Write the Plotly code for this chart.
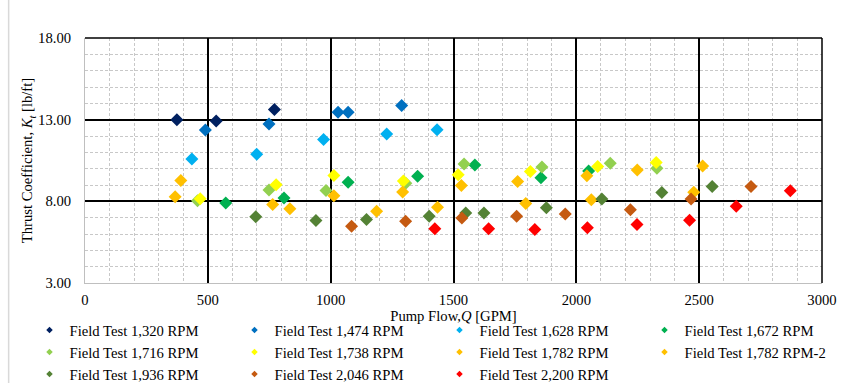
import plotly.graph_objects as go

series_names = [
    "Field Test 1,320 RPM", "Field Test 1,474 RPM", "Field Test 1,628 RPM",
    "Field Test 1,672 RPM", "Field Test 1,716 RPM", "Field Test 1,738 RPM",
    "Field Test 1,782 RPM", "Field Test 1,782 RPM-2", "Field Test 1,936 RPM",
    "Field Test 2,046 RPM", "Field Test 2,200 RPM",
]
colors = ["#002060", "#0070C0", "#00B0F0", "#00B050", "#92D050", "#FFFF00",
          "#FFC000", "#FFC000", "#548235", "#C55A11", "#FF0000"]

q_1320 = [374, 534, 771]
k_1320 = [13.00, 12.92, 13.63]
q_1474 = [490, 749, 1030, 1071, 1289]
k_1474 = [12.37, 12.73, 13.46, 13.46, 13.87]
q_1628 = [435, 699, 971, 1228, 1433]
k_1628 = [10.59, 10.89, 11.79, 12.13, 12.39]
q_1672 = [573, 810, 1071, 1354, 1587, 1856, 2050]
k_1672 = [7.90, 8.20, 9.17, 9.54, 10.23, 9.45, 9.86]
q_1716 = [458, 749, 981, 1306, 1543, 1860, 2138, 2328]
k_1716 = [8.04, 8.69, 8.67, 9.10, 10.29, 10.10, 10.33, 10.02]
q_1738 = [469, 778, 1013, 1296, 1519, 1813, 2087, 2325]
k_1738 = [8.16, 9.01, 9.58, 9.25, 9.62, 9.82, 10.13, 10.37]
q_1782 = [367, 764, 1013, 1293, 1532, 1761, 2043, 2248, 2514]
k_1782 = [8.28, 7.80, 8.34, 8.57, 8.97, 9.21, 9.56, 9.92, 10.17]
q_1782b = [390, 834, 1187, 1435, 1794, 2061, 2478]
k_1782b = [9.27, 7.55, 7.39, 7.64, 7.86, 8.10, 8.55]
q_1936 = [695, 940, 1146, 1401, 1550, 1624, 1878, 2104, 2348, 2553]
k_1936 = [7.05, 6.83, 6.89, 7.09, 7.29, 7.29, 7.60, 8.14, 8.54, 8.91]
q_2046 = [1085, 1305, 1534, 1757, 1955, 2220, 2467, 2711]
k_2046 = [6.48, 6.78, 6.98, 7.08, 7.22, 7.48, 8.15, 8.91]
q_2200 = [1424, 1643, 1831, 2045, 2247, 2461, 2651, 2871]
k_2200 = [6.32, 6.32, 6.28, 6.38, 6.58, 6.84, 7.70, 8.65]

q_all = [q_1320, q_1474, q_1628, q_1672, q_1716, q_1738, q_1782, q_1782b, q_1936, q_2046, q_2200]
k_all = [k_1320, k_1474, k_1628, k_1672, k_1716, k_1738, k_1782, k_1782b, k_1936, k_2046, k_2200]

x_range = [0, 3000]
y_range = [3, 18]

FONT = "Liberation Serif"
FS = 14.67

fig = go.Figure()
for name, c, q, k in zip(series_names, colors, q_all, k_all):
    fig.add_trace(go.Scatter(
        x=q, y=k, mode="markers", name=name, showlegend=False,
        marker=dict(symbol="diamond", size=10, color=c, line=dict(width=0)),
    ))
# legend-only entries with small symbols
for name, c in zip(series_names, colors):
    fig.add_trace(go.Scatter(
        x=[None], y=[None], mode="markers", name=name, showlegend=True,
        marker=dict(symbol="diamond", size=5, color=c, line=dict(width=0)),
    ))

fig.update_layout(
    width=845, height=383,
    margin=dict(l=85, r=23, t=38, b=100, autoexpand=False),
    paper_bgcolor="white", plot_bgcolor="white",
    font=dict(family=FONT, size=FS, color="#000000"),
    showlegend=True,
    legend=dict(
        orientation="h", x=-0.0753, y=-0.126, xanchor="left", yanchor="top",
        entrywidth=160, entrywidthmode="pixels",
        font=dict(family=FONT, size=FS, color="#000000"),
        itemsizing="trace", bgcolor="rgba(0,0,0,0)",
    ),
    xaxis=dict(
        range=x_range, dtick=500, tick0=0, showgrid=True,
        gridcolor="#000000", gridwidth=1.5,
        minor=dict(dtick=100, showgrid=True, gridcolor="#C8C8C8", griddash="3px,2px", gridwidth=1),
        showline=True, linecolor="#BFBFBF", linewidth=1, zeroline=False,
        ticks="", ticklabelstandoff=3,
        title=dict(text="Pump Flow,<i>Q</i> [GPM]", standoff=0, font=dict(family=FONT, size=FS)),
    ),
    yaxis=dict(
        range=y_range, dtick=5, tick0=3, tickformat=".2f", showgrid=True,
        gridcolor="#000000", gridwidth=1.5,
        minor=dict(dtick=1, showgrid=True, gridcolor="#C8C8C8", griddash="3px,2px", gridwidth=1),
        showline=True, linecolor="#BFBFBF", linewidth=1, zeroline=False,
        ticks="", ticklabelstandoff=10,
        title=dict(text="Thrust Coefficient, <i>K<sub>t</sub></i> [lb/ft]", standoff=1, font=dict(family=FONT, size=FS)),
    ),
    shapes=[
        dict(type="line", xref="paper", yref="paper", x0=-0.1036, x1=-0.1036, y0=-0.5, y1=1.2,
             line=dict(color="#D9D9D9", width=1.5)),
        dict(type="line", xref="paper", yref="paper", x0=0, x1=1, y0=1, y1=1,
             line=dict(color="#000000", width=1.5)),
        dict(type="line", xref="paper", yref="paper", x0=1, x1=1, y0=0, y1=1,
             line=dict(color="#000000", width=1.5)),
    ],
)

fig.write_html("out.html", config={"displayModeBar": False},
               post_script="document.body.style.margin='0px';")
